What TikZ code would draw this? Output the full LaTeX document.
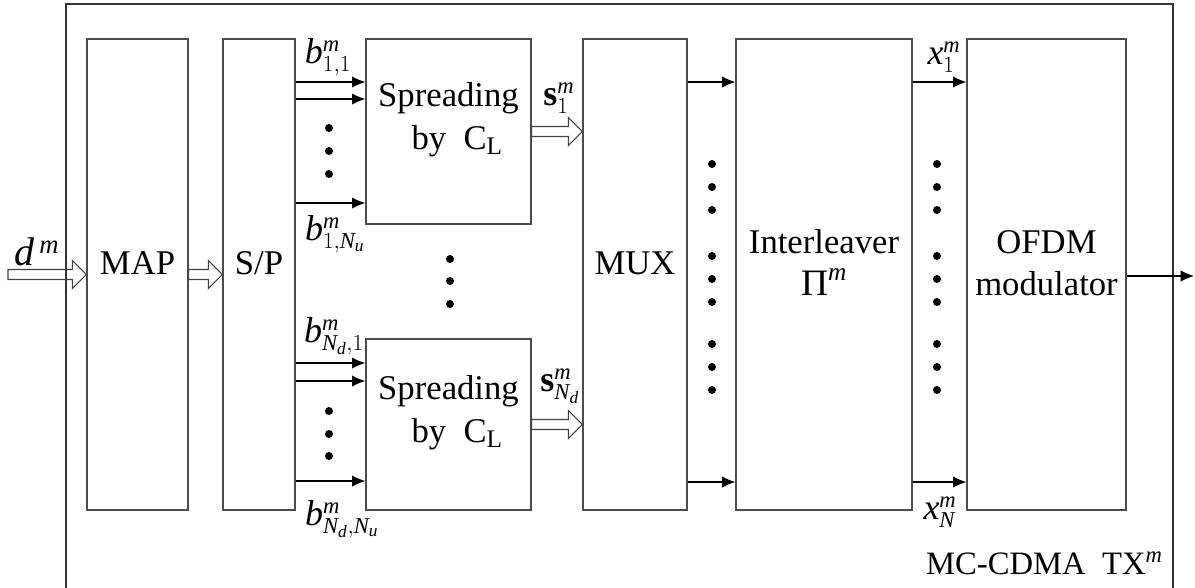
\documentclass[tikz,border=0pt]{standalone}
\usepackage{fontspec}
\setmainfont{Liberation Serif}
\usetikzlibrary{arrows.meta,calc,fit}
\DeclareMathSizes{27}{27}{17}{13}
\DeclareMathSizes{24.5}{24.5}{17}{13}
\DeclareMathSizes{26}{26}{19}{15}
\DeclareMathSizes{30}{30}{20}{16}
\newcommand\holarrow[2]{\draw[hol] let \p1=#1, \p2=#2 in (\x1,\y2+3.75pt) -- (\x2-10.5pt,\y2+3.75pt) -- (\x2-10.5pt,\y2+10.5pt) -- (\x2,\y2) -- (\x2-10.5pt,\y2-10.5pt) -- (\x2-10.5pt,\y2-3.75pt) -- (\x1,\y2-3.75pt) -- cycle;}
\begin{document}
\begin{tikzpicture}[x=0.75pt,y=-0.75pt,
 box/.style={draw=black!70, line width=0.9pt, inner sep=0pt, font=\fontsize{26}{32}\selectfont, align=center},
 arr/.style={line width=0.9pt, -{Latex[length=10pt,width=8.5pt]}},
 hol/.style={draw=black!75, line width=0.8pt},
 lab/.style={font=\fontsize{27}{31}\selectfont, inner sep=0pt},
 dot/.style={circle, fill=black, inner sep=0pt, minimum size=6pt}]
\useasboundingbox (0,0) rectangle (1195,587);
\draw[line width=0.9pt, black!80] (66,600) -- (66,4) -- (1173,4) -- (1173,600);

\node[box, fit={(87,39) (188,510)}] (map) {MAP};
\node[box, fit={(223,39) (295,510)}] (sp) {S/P};
\node[box, fit={(366,39) (531,224)}] (spr1) {Spreading\\\hspace*{0.5em}by\ \ C$_{\mathrm{L}}$};
\node[box, fit={(366,339) (531,510)}] (spr2) {Spreading\\\hspace*{0.5em}by\ \ C$_{\mathrm{L}}$};
\node[box, fit={(583,39) (687,510)}] (mux) {MUX};
\node[box, fit={(736,39) (912,510)}] (int) {Interleaver\\$\mbox{\fontsize{28}{32}\selectfont Π}^{\mathit{m}}$};
\node[box, fit={(967,39) (1126,510)}] (ofdm) {OFDM\\modulator};

% hollow arrows
\coordinate (din) at (8,275);
\holarrow{(din)}{(map.west)}
\holarrow{(map.east)}{(sp.west)}
\holarrow{(spr1.east)}{(spr1.east -| mux.west)}
\holarrow{(spr2.east)}{(spr2.east -| mux.west)}

% S/P to spreading
\foreach \y in {82,99,203,363,381,481}{
  \draw[arr] (sp.east |- 0,\y) -- (spr1.west |- 0,\y);
}
% MUX -> interleaver -> OFDM
\foreach \y in {82,482}{
  \draw[arr] (mux.east |- 0,\y) -- (int.west |- 0,\y);
  \draw[arr] (int.east |- 0,\y) -- (ofdm.west |- 0,\y);
}
\coordinate (out) at (1194,276);
\draw[arr] (ofdm.east |- out) -- (out);

% dots
\foreach \y [count=\i] in {128,151,174,411,434,456}{
  \node[dot] (da\i) at (329,\y) {};
}
\foreach \y [count=\i] in {259,281,304}{
  \node[dot] (db\i) at (450,\y) {};
}
\foreach \y [count=\i] in {164,187,210,256,279,302,344,367,390}{
  \node[dot] (dc\i) at (712,\y) {};
  \node[dot] (dd\i) at (937,\y) {};
}

% labels
\node[lab, font=\fontsize{30}{34}\selectfont] (ld) at (37,252) {$\mathit{d}^{\,\mathit{m}}$};
\node[lab] (lb1) at (328,57) {$\mathit{b}^{\mathit{m}}_{1,1}$};
\node[lab] (lb2) at (335,234) {$\mathit{b}^{\mathit{m}}_{1,\mathit{N}_{\mathit{u}}}$};
\node[lab] (lb3) at (334,336) {$\mathit{b}^{\mathit{m}}_{\mathit{N}_{\mathit{d}},1}$};
\node[lab] (lb4) at (342,519) {$\mathit{b}^{\mathit{m}}_{\mathit{N}_{\mathit{d}},\mathit{N}_{\mathit{u}}}$};
\node[lab] (ls1) at (559,98) {$\mathbf{s}^{\mathit{m}}_{1}$};
\node[lab] (ls2) at (560,386) {$\mathbf{s}^{\mathit{m}}_{\mathit{N}_{\mathit{d}}}$};
\node[lab] (lx1) at (944,57) {$\mathit{x}^{\mathit{m}}_{1}$};
\node[lab] (lx2) at (940,512) {$\mathit{x}^{\mathit{m}}_{\mathit{N}}$};
\node[lab, font=\fontsize{24.5}{30}\selectfont, anchor=east] (ltx) at (1163,563) {MC-CDMA\ \ TX$^{\mathit{m}}$};
\end{tikzpicture}
\end{document}
